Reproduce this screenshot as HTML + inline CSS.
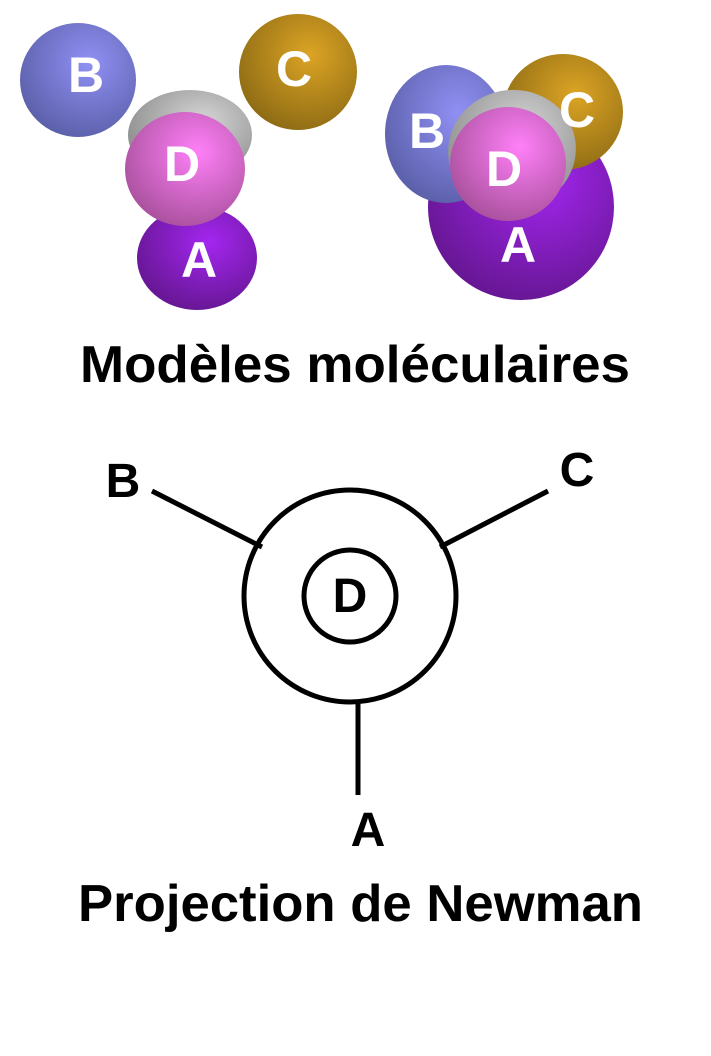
<!DOCTYPE html>
<html><head><style>
body{margin:0;background:#fff;width:711px;height:1051px;overflow:hidden}
</style></head><body>
<svg width="711" height="1051" viewBox="0 0 711 1051" xmlns="http://www.w3.org/2000/svg" font-family="Liberation Sans, sans-serif" font-weight="bold">
<defs>
<radialGradient id="gb" cx="0.6" cy="0.35" r="0.7"><stop offset="0" stop-color="#9090f4"/><stop offset="1" stop-color="#5a5fa8"/></radialGradient>
<radialGradient id="gc" cx="0.6" cy="0.35" r="0.7"><stop offset="0" stop-color="#dca424"/><stop offset="1" stop-color="#8c6a14"/></radialGradient>
<radialGradient id="gd" cx="0.6" cy="0.35" r="0.7"><stop offset="0" stop-color="#ff80f8"/><stop offset="1" stop-color="#a8509c"/></radialGradient>
<radialGradient id="ga" cx="0.6" cy="0.35" r="0.7"><stop offset="0" stop-color="#a426f0"/><stop offset="1" stop-color="#641690"/></radialGradient>
<radialGradient id="gg" cx="0.6" cy="0.35" r="0.7"><stop offset="0" stop-color="#d6d6d6"/><stop offset="1" stop-color="#8a8a8a"/></radialGradient>
</defs>
<ellipse cx="78" cy="80" rx="58" ry="57" fill="url(#gb)"/>
<ellipse cx="298" cy="72" rx="59" ry="58" fill="url(#gc)"/>
<ellipse cx="190" cy="135" rx="62" ry="45" fill="url(#gg)"/>
<ellipse cx="197" cy="258" rx="60" ry="52" fill="url(#ga)"/>
<ellipse cx="185" cy="169" rx="60" ry="57" fill="url(#gd)"/>
<g fill="#fff" font-size="50" text-anchor="middle">
<text x="86" y="92">B</text><text x="294" y="86">C</text><text x="182" y="181">D</text><text x="199" y="277">A</text>
</g>
<ellipse cx="521" cy="207" rx="93" ry="93" fill="url(#ga)"/>
<ellipse cx="563" cy="112" rx="60" ry="58" fill="url(#gc)"/>
<ellipse cx="446" cy="134" rx="61" ry="69" fill="url(#gb)"/>
<ellipse cx="512" cy="150" rx="64" ry="60" fill="url(#gg)" transform="rotate(-10 512 150)"/>
<ellipse cx="508" cy="164" rx="58" ry="57" fill="url(#gd)"/>
<g fill="#fff" font-size="50" text-anchor="middle">
<text x="427" y="148">B</text><text x="577" y="127">C</text><text x="504" y="186">D</text><text x="518" y="262">A</text>
</g>
<text x="80" y="382" font-size="52" textLength="550" lengthAdjust="spacingAndGlyphs" fill="#000">Modèles moléculaires</text>
<g stroke="#000" stroke-width="5" fill="none">
<circle cx="350" cy="596" r="106"/>
<circle cx="350" cy="596" r="46"/>
<line x1="152" y1="491" x2="262" y2="547"/>
<line x1="548" y1="491" x2="440" y2="547"/>
<line x1="358" y1="701" x2="358" y2="795"/>
</g>
<g font-size="48" text-anchor="middle" fill="#000">
<text x="123" y="497">B</text><text x="577" y="486">C</text><text x="350" y="612">D</text><text x="368" y="846">A</text>
</g>
<text x="78" y="921" font-size="52" textLength="565" lengthAdjust="spacingAndGlyphs" fill="#000">Projection de Newman</text>
</svg>
</body></html>
